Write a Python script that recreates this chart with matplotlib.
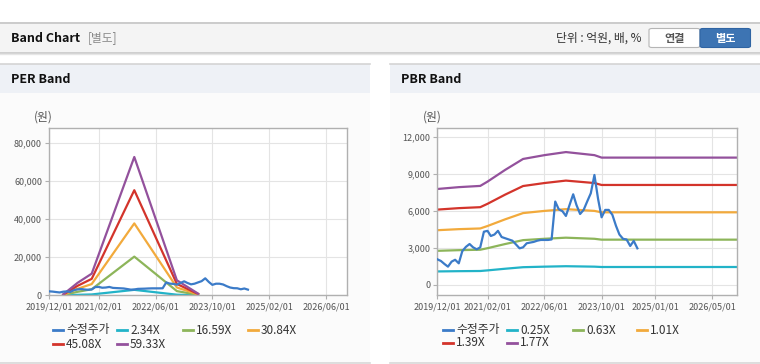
import matplotlib
matplotlib.use('Agg')
import matplotlib.pyplot as plt
from matplotlib.patches import Rectangle, FancyBboxPatch
from matplotlib.lines import Line2D
from matplotlib.ticker import FuncFormatter
import pandas as pd

plt.rcParams['font.family'] = ['Noto Sans CJK KR', 'DejaVu Sans']

W, H = 760, 364

# 수정주가 (monthly, 2019/12 ~ 2024/08)
price_dates = pd.date_range('2019-12-01', '2024-08-01', freq='MS')
price = [2090, 1950, 1700, 1490, 1900, 2050, 1760, 2750, 3100, 3330,
         3060, 2900, 3060, 4330, 4400, 3980, 4100, 4400, 3900, 3800,
         3700, 3600, 3300, 2980, 3060, 3390, 3450, 3500, 3600, 3660,
         3660, 3660, 3700, 6780, 6150, 6000, 5610, 6500, 7370, 6500,
         5770, 6100, 6800, 7450, 8940, 7000, 5500, 6100, 6100, 5700,
         4800, 4100, 3750, 3700, 3170, 3580, 2980]

# PER band
per_dates = pd.to_datetime(['2020-04-01', '2020-08-01', '2020-12-01',
                            '2021-12-01', '2022-12-01', '2023-06-01'])
per_labels = ['수정주가', '2.34X', '16.59X', '30.84X', '45.08X', '59.33X']
per_234 = [19, 257, 449, 2871, 311, 35]
per_1659 = [133, 1825, 3185, 20356, 2206, 249]
per_3084 = [247, 3392, 5921, 37841, 4102, 463]
per_4508 = [361, 4959, 8655, 55313, 5996, 676]
per_5933 = [475, 6526, 11391, 72798, 7891, 890]

# PBR band
pbr_dates = pd.to_datetime(['2019-12-01', '2020-06-01', '2020-12-01', '2021-02-01',
                            '2021-07-01', '2021-12-01', '2022-06-01', '2022-12-01',
                            '2023-08-01', '2023-10-01', '2026-12-01'])
pbr_labels = ['수정주가', '0.25X', '0.63X', '1.01X', '1.39X', '1.77X']
pbr_025 = [1102, 1123, 1137, 1187, 1321, 1446, 1490, 1526, 1490, 1462, 1462]
pbr_063 = [2776, 2830, 2865, 2990, 3328, 3645, 3755, 3844, 3755, 3684, 3684]
pbr_101 = [4451, 4537, 4593, 4793, 5335, 5843, 6020, 6163, 6020, 5905, 5905]
pbr_139 = [6126, 6244, 6322, 6597, 7342, 8041, 8284, 8482, 8284, 8127, 8127]
pbr_177 = [7800, 7950, 8050, 8400, 9350, 10240, 10550, 10800, 10550, 10350, 10350]

per_xticks = ['2019-12-01', '2021-02-01', '2022-06-01', '2023-10-01', '2025-02-01', '2026-06-01']
pbr_xticks = ['2019-12-01', '2021-02-01', '2022-06-01', '2023-10-01', '2025-01-01', '2026-05-01']

colors = ['#3b7bc8', '#22b3c8', '#8db55a', '#f2aa3c', '#d3342b', '#93519c']


def fx(x):
    return x / W


def fy(y):
    return 1 - y / H


def rect(fig, x0, y0, x1, y1, fc, ec='none', lw=0):
    fig.add_artist(Rectangle((fx(x0), fy(y1)), (x1 - x0) / W, (y1 - y0) / H,
                             transform=fig.transFigure, fc=fc, ec=ec, lw=lw, zorder=-5))


def hline(fig, x0, x1, y, color, lw=1):
    fig.add_artist(Line2D([fx(x0), fx(x1)], [fy(y), fy(y)],
                          transform=fig.transFigure, color=color, lw=lw, zorder=-4))


fig = plt.figure(figsize=(7.6, 3.64), dpi=100)
fig.patch.set_facecolor('white')

# top header
rect(fig, 0, 22, 760, 53, '#f4f4f4')
hline(fig, 0, 760, 22.5, '#c4c4c4', 1.2)
hline(fig, 0, 760, 53, '#c8c8c8', 1.2)
hline(fig, 0, 760, 54.2, '#e6e6e6', 1)
fig.text(fx(11), fy(38), 'Band Chart', fontsize=9, fontweight='bold', color='#111111', va='center')
fig.text(fx(88), fy(38), '[별도]', fontsize=8.5, color='#8a8a8a', va='center')
fig.text(fx(641), fy(38.5), '단위 : 억원, 배, %', fontsize=8.5, color='#333333', va='center', ha='right')
fig.add_artist(FancyBboxPatch((fx(649), fy(47.5)), 51 / W, 19 / H, boxstyle='round,pad=0,rounding_size=0.004',
                              transform=fig.transFigure, fc='white', ec='#b5b5b5', lw=0.8))
fig.add_artist(FancyBboxPatch((fx(700), fy(47.5)), 50.5 / W, 19 / H, boxstyle='round,pad=0,rounding_size=0.004',
                              transform=fig.transFigure, fc='#3d74b3', ec='#2f64a3', lw=0.8))
fig.text(fx(674.5), fy(38.5), '연결', fontsize=8, fontweight='bold', color='#555555', va='center', ha='center')
fig.text(fx(725), fy(38.5), '별도', fontsize=8, fontweight='bold', color='white', va='center', ha='center')

# panels
for x0, x1, title in [(0, 370, 'PER Band'), (390, 760, 'PBR Band')]:
    rect(fig, x0, 64, x1, 93, '#eef1f6')
    rect(fig, x0, 93, x1, 362.5, '#fbfbfb')
    hline(fig, x0, x1, 64, '#d4d4d4', 1.2)
    hline(fig, x0, x1, 362.5, '#d8d8d8', 1.2)
    fig.text(fx(x0 + 11), fy(79.5), title, fontsize=9, fontweight='bold', color='#111111', va='center')


def setup_axes(ax, xticks, ylim, yticks, unit_x):
    ax.set_facecolor('white')
    ax.set_xlim(pd.Timestamp('2019-12-01'), pd.Timestamp('2026-11-28'))
    ax.set_ylim(*ylim)
    ax.set_yticks(yticks)
    ax.set_xticks(pd.to_datetime(xticks))
    ax.set_xticklabels([t.replace('-', '/') for t in xticks])
    ax.yaxis.set_major_formatter(FuncFormatter(lambda v, p: f'{int(v):,}'))
    ax.grid(True, color='#e4e4e4', lw=0.8)
    ax.set_axisbelow(True)
    for s in ax.spines.values():
        s.set_color('#b0b0b0')
        s.set_linewidth(1)
    ax.tick_params(axis='both', labelsize=6.5, labelcolor='#555555', color='#b0b0b0',
                   length=3, width=0.8, pad=2)
    fig.text(fx(unit_x), fy(117), '(원)', fontsize=8.5, color='#555555', ha='center', va='center')


def legend(labels, x_cols, rows):
    for i, lab in enumerate(labels):
        x = x_cols[i % 4]
        y = rows[i // 4]
        fig.add_artist(Line2D([fx(x), fx(x + 10)], [fy(y), fy(y)], transform=fig.transFigure,
                              color=colors[i], lw=2))
        fig.text(fx(x + 13), fy(y), lab, fontsize=8.5, color='#333333', va='center')


# PER chart
ax1 = fig.add_axes([fx(49), fy(295.3), 298 / W, 167 / H])
setup_axes(ax1, per_xticks, (0, 87900), [0, 20000, 40000, 60000, 80000], 43)
for i, vals in enumerate([per_234, per_1659, per_3084, per_4508, per_5933]):
    ax1.plot(per_dates, vals, color=colors[i + 1], lw=1.6, zorder=2)
ax1.plot(price_dates, price, color=colors[0], lw=1.6, zorder=3)
legend(per_labels, [53, 117, 183, 248], [330, 344])

# PBR chart
ax2 = fig.add_axes([fx(437.3), fy(295.3), 299.7 / W, 167 / H])
setup_axes(ax2, pbr_xticks, (-837, 12731), [0, 3000, 6000, 9000, 12000], 432)
for i, vals in enumerate([pbr_025, pbr_063, pbr_101, pbr_139, pbr_177]):
    ax2.plot(pbr_dates, vals, color=colors[i + 1], lw=1.6, zorder=2)
ax2.plot(price_dates, price, color=colors[0], lw=1.6, zorder=3)
legend(pbr_labels, [443, 507, 573, 637], [330, 343])

fig.savefig('out.png', dpi=100)
